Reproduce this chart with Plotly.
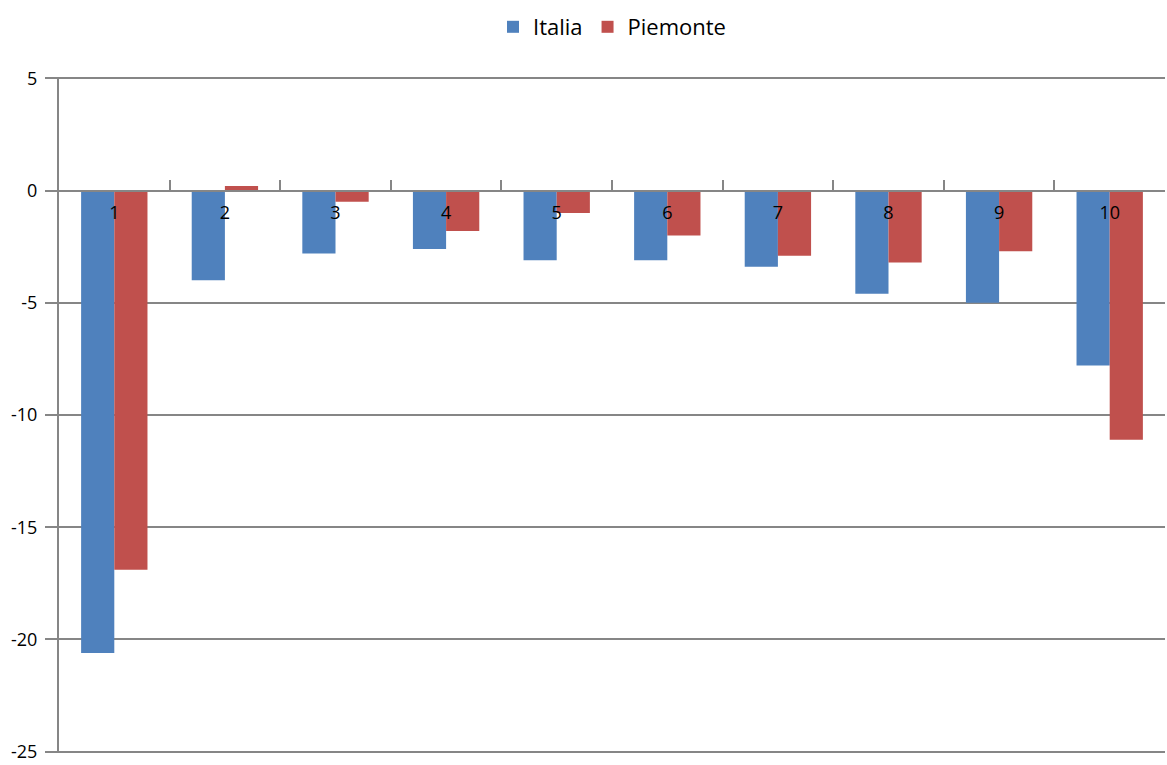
import plotly.graph_objects as go

categories = ["1", "2", "3", "4", "5", "6", "7", "8", "9", "10"]
italia = [-20.6, -4.0, -2.8, -2.6, -3.1, -3.1, -3.4, -4.6, -5.0, -7.8]
piemonte = [-16.9, 0.2, -0.5, -1.8, -1.0, -2.0, -2.9, -3.2, -2.7, -11.1]
y_ticks = [5, 0, -5, -10, -15, -20, -25]
y_tick_labels = ["5", "0", "-5", "-10", "-15", "-20", "-25"]

GRID = "#868686"
FONT = "Open Sans"

fig = go.Figure()
fig.add_trace(go.Bar(x=categories, y=italia, name="Italia", marker_color="#4F81BD", marker_line_width=0))
fig.add_trace(go.Bar(x=categories, y=piemonte, name="Piemonte", marker_color="#C0504D", marker_line_width=0))

ymin, ymax = -25.06, 5.06
fig.update_layout(
    width=1167, height=765,
    margin=dict(l=59, r=2, t=77, b=8),
    paper_bgcolor="white", plot_bgcolor="white",
    font=dict(family=FONT, size=18, color="black"),
    barmode="group", bargap=0.4, bargroupgap=0,
    legend=dict(orientation="h", x=0.5, xanchor="center", y=1 - 27 / 765, yref="container", yanchor="middle",
                font=dict(size=22), itemwidth=30, traceorder="normal"),
    xaxis=dict(type="category", anchor="free", position=(0 - ymin) / (ymax - ymin),
               showline=True, linecolor=GRID, linewidth=2,
               ticks="inside", tickson="boundaries", ticklen=10, tickwidth=2, tickcolor=GRID,
               showgrid=False, tickfont=dict(size=18), layer="above traces", ticklabelstandoff=6),
    yaxis=dict(range=[ymin, ymax], tickvals=y_ticks, ticktext=y_tick_labels, domain=[0, 1],
               showline=True, linecolor=GRID, linewidth=2,
               showgrid=True, gridcolor=GRID, gridwidth=2, zeroline=False,
               ticks="outside", ticklen=12, tickwidth=2, tickcolor=GRID,
               tickfont=dict(size=18), ticklabelstandoff=4, ticklabeloverflow="allow"),
)

fig.write_html("out.html")
